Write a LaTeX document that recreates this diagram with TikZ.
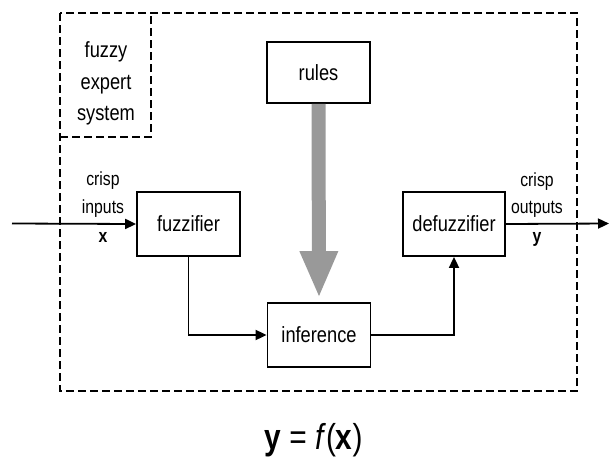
\documentclass[tikz,border=0pt]{standalone}
\usepackage{fontspec}
\setmainfont{Liberation Sans}[FakeStretch=0.83]
\usetikzlibrary{arrows.meta}
\tikzset{
  block/.style={draw, line width=1.8pt, minimum width=103pt, minimum height=64pt,
    inner sep=0pt, font=\fontsize{22}{24}\selectfont},
  lbl/.style={anchor=base, inner sep=0pt, font=\fontsize{19}{21}\selectfont},
  sysl/.style={anchor=base, inner sep=0pt, font=\fontsize{22}{24}\selectfont},
  flow/.style={line width=1.8pt, -{Triangle[length=11pt,width=10pt]}},
  boundary/.style={line width=2pt, dash pattern=on 8pt off 4pt},
  kb/.style={line width=14pt, draw=black!40, -{Triangle[length=47pt,width=35pt]}, shorten >=4pt}
}
\begin{document}
\begin{tikzpicture}[x=1pt,y=-1pt]
\useasboundingbox (0,0) rectangle (609,458);

% system boundary and its label corner
\draw[boundary] (60,13) rectangle (577,391);
\draw[boundary] (60,137) -- (151,137) -- (151,13);
\node[sysl] (lab1) at (106,57) {fuzzy};
\node[sysl] (lab2) at (106,89) {expert};
\node[sysl] (lab3) at (106,120) {system};

% processing blocks
\node[block] (fuzz) at (188.5,224) {fuzzifier};
\node[block, minimum height=61pt] (rules) at (318.5,72.5) {rules};
\node[block] (inf) at (319,335) {inference};
\node[block, minimum width=102pt] (defuzz) at (454,224) {defuzzifier};

% knowledge base feeding the inference engine
\draw[kb] (rules.south) -- (inf.north);

% signal path
\coordinate (in) at (12,223.5);
\coordinate (out) at (609,223.5);
\draw[flow] (in) -- (fuzz.west);
\draw[flow] (fuzz.south) |- (inf.west);
\draw[flow] (inf.east) -| (defuzz.south);
\draw[flow] (defuzz.east) -- (out);

% input / output labels
\node[lbl] (ci1) at (103,185) {crisp};
\node[lbl] (ci2) at (103,213) {inputs};
\node[lbl] (ci3) at (103,242) {\textbf{x}};
\node[lbl] (co1) at (537,186) {crisp};
\node[lbl] (co2) at (537,213) {outputs};
\node[lbl] (co3) at (537,242) {\textbf{y}};

% overall mapping
\node[anchor=base, inner sep=0pt, font=\fontsize{36}{40}\selectfont] (map) at (313.5,449)
  {\textbf{y} = \textit{f}(\textbf{x})};
\end{tikzpicture}
\end{document}
